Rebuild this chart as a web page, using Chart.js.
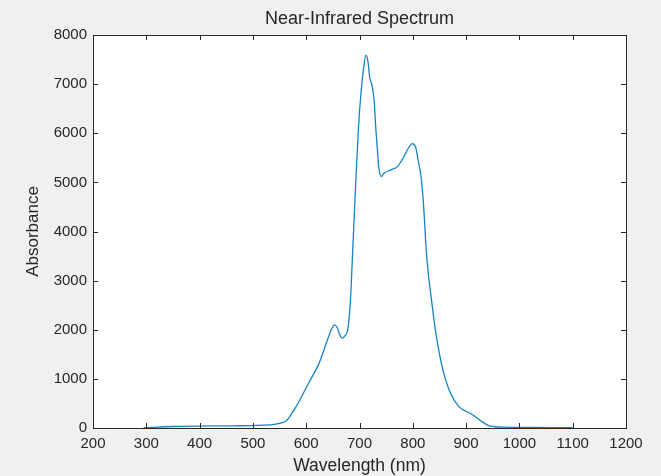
<!DOCTYPE html>
<html>
<head>
<meta charset="utf-8">
<script src="https://cdn.jsdelivr.net/npm/chart.js@4.4.1/dist/chart.umd.min.js"></script>
<style>
  html, body { margin: 0; padding: 0; background: #f0f0f0; }
  #wrap { width: 661px; height: 476px; }
</style>
</head>
<body>
<div id="wrap"><canvas id="nir"></canvas></div>
<script>
// 波長 (nm)
const wavelengths = [295, 310, 332, 360, 395, 430, 465, 495, 520, 540, 555, 562, 572, 583,
  601, 612, 623, 632, 640, 647, 653, 658, 663, 668, 673, 678, 683, 688, 693, 698, 703, 708,
  712, 716, 719, 724, 728, 730, 733, 736, 741, 746, 758, 771, 783, 793, 799, 805, 811, 815,
  818, 821, 825, 829, 834, 843, 855, 871, 887, 900, 909, 920, 931, 940, 946, 955, 970, 990,
  1020, 1060, 1100];
// 吸光度
const absorbance = [5, 12, 25, 32, 40, 42, 45, 48, 58, 75, 110, 140, 280, 470,
  840, 1060, 1290, 1550, 1800, 2000, 2100, 2050, 1900, 1830, 1880, 2000, 2600, 3800, 5000, 6100, 6850, 7350,
  7590, 7450, 7150, 6950, 6600, 6200, 5750, 5320, 5120, 5185, 5250, 5320, 5520, 5720, 5790, 5730, 5390, 5150,
  4850, 4400, 3650, 3150, 2700, 1950, 1250, 700, 430, 340, 290, 210, 120, 60, 38, 25, 18, 14,
  12, 9, 5];
const xTicks = [200, 300, 400, 500, 600, 700, 800, 900, 1000, 1100, 1200];
const yTicks = [0, 1000, 2000, 3000, 4000, 5000, 6000, 7000, 8000];

const INK = "#262626";
const FONT = "'Liberation Sans', Arial, Helvetica, sans-serif";

// 内向きの目盛りと枠（MATLAB風）
const boxTicks = {
  id: "boxTicks",
  afterDraw(chart) {
    const { ctx, chartArea: a, scales } = chart;
    const len = 5;
    ctx.save();
    ctx.strokeStyle = INK;
    ctx.lineWidth = 1;
    ctx.beginPath();
    scales.x.ticks.forEach(t => {
      const px = Math.round(scales.x.getPixelForValue(t.value)) + 0.5;
      ctx.moveTo(px, a.bottom); ctx.lineTo(px, a.bottom - len);
      ctx.moveTo(px, a.top); ctx.lineTo(px, a.top + len);
    });
    scales.y.ticks.forEach(t => {
      const py = Math.round(scales.y.getPixelForValue(t.value)) + 0.5;
      ctx.moveTo(a.left, py); ctx.lineTo(a.left + len, py);
      ctx.moveTo(a.right, py); ctx.lineTo(a.right - len, py);
    });
    ctx.stroke();
    ctx.strokeRect(Math.round(a.left) + 0.5, Math.round(a.top) + 0.5,
      Math.round(a.right - a.left), Math.round(a.bottom - a.top));
    ctx.restore();
  }
};

// プロット領域だけ白
const whiteArea = {
  id: "whiteArea",
  beforeDraw(chart) {
    const { ctx, chartArea: a } = chart;
    ctx.save();
    ctx.fillStyle = "#ffffff";
    ctx.fillRect(a.left, a.top, a.right - a.left, a.bottom - a.top);
    ctx.restore();
  }
};

new Chart(document.getElementById("nir"), {
  type: "line",
  data: {
    datasets: [{
      data: wavelengths.map((w, i) => ({ x: w, y: absorbance[i] })),
      borderColor: "#1483c6",
      borderWidth: 1.3,
      pointRadius: 0,
      cubicInterpolationMode: "monotone",
      fill: false
    }]
  },
  options: {
    responsive: true,
    maintainAspectRatio: false,
    animation: false,
    layout: { padding: { left: 0, right: 35, top: 0, bottom: 0 } },
    plugins: {
      legend: { display: false },
      tooltip: { enabled: false },
      title: {
        display: true,
        fullSize: false,
        text: "Near-Infrared Spectrum",
        color: INK,
        font: { family: FONT, size: 18, weight: "normal" },
        padding: { top: 8, bottom: 5.4 }
      }
    },
    scales: {
      x: {
        type: "linear",
        min: 200, max: 1200,
        afterBuildTicks: s => { s.ticks = xTicks.map(v => ({ value: v })); },
        afterFit: s => { s.height = 48; },
        grid: { display: false, drawTicks: false },
        border: { display: false },
        ticks: {
          color: INK, padding: 7, font: { family: FONT, size: 15 }, maxRotation: 0, autoSkip: false,
          callback: v => String(v)
        },
        title: {
          display: true, text: "Wavelength (nm)", color: INK,
          font: { family: FONT, size: 17.5 }, padding: { top: 0, bottom: -1 }
        }
      },
      y: {
        min: 0, max: 8000,
        afterBuildTicks: s => { s.ticks = yTicks.map(v => ({ value: v })); },
        afterFit: s => { s.width = 93; },
        grid: { display: false, drawTicks: false },
        border: { display: false },
        ticks: {
          color: INK, padding: 6, font: { family: FONT, size: 15 }, autoSkip: false,
          callback: v => String(v)
        },
        title: {
          display: true, text: "Absorbance", color: INK,
          font: { family: FONT, size: 17 }, padding: { top: 23, bottom: 0 }
        }
      }
    }
  },
  plugins: [whiteArea, boxTicks]
});
</script>
</body>
</html>
